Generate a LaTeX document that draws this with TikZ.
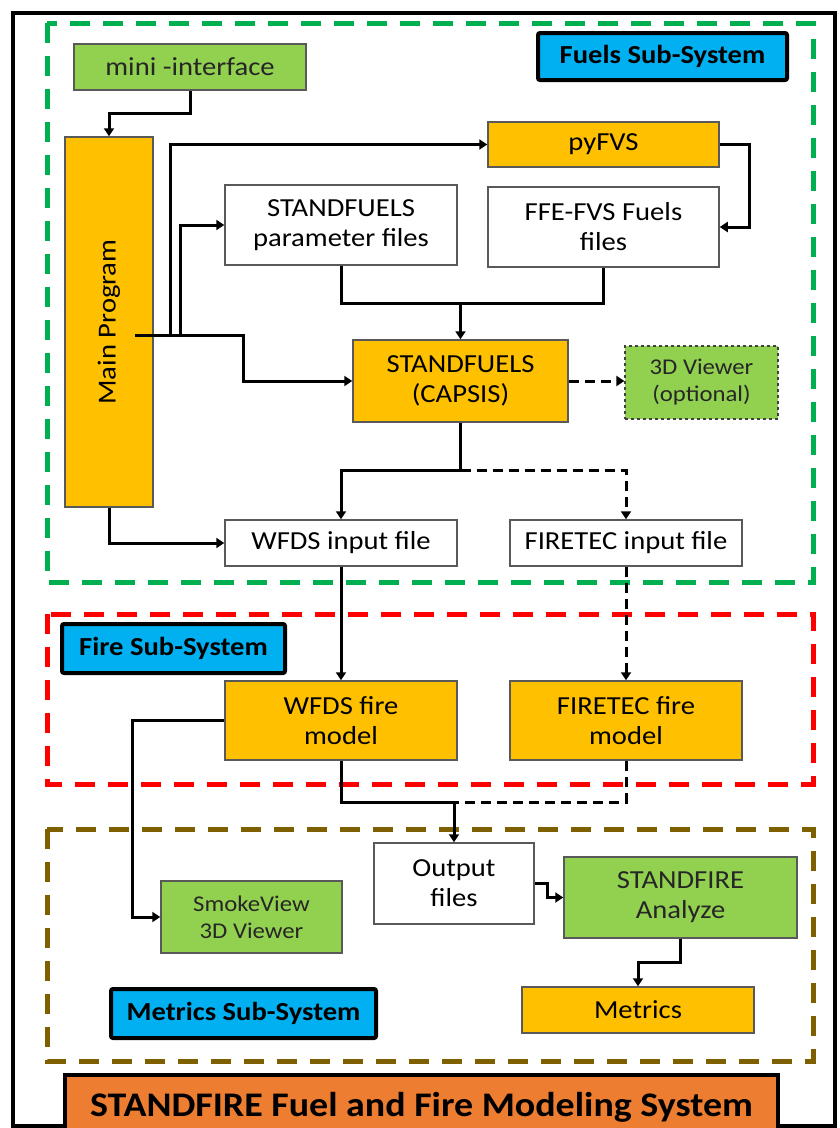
\documentclass[tikz,border=0pt]{standalone}
\usepackage{fontspec}
\setmainfont{Carlito}[FakeStretch=1.1]
\usetikzlibrary{arrows.meta}
\definecolor{cOrange}{HTML}{FFC000}
\definecolor{cGreen}{HTML}{92D050}
\definecolor{cBlue}{HTML}{00B0F0}
\definecolor{cTitle}{HTML}{ED7D31}
\definecolor{cFrameG}{HTML}{00B050}
\definecolor{cFrameR}{HTML}{FF0000}
\definecolor{cFrameB}{HTML}{7F6000}
\tikzset{
  box/.style={draw=black!65, line width=1.5pt, inner sep=0pt, align=center,
    font=\fontsize{26}{30}\selectfont},
  obox/.style={box, fill=cOrange},
  gbox/.style={box, fill=cGreen, text=black!85},
  wbox/.style={box, fill=white},
  lbl/.style={draw=black, line width=4pt, fill=cBlue, rounded corners=2pt, inner sep=0pt,
    font=\fontsize{26}{30}\selectfont\bfseries},
  conn/.style={draw=black, line width=3pt},
  arr/.style={conn, -{Triangle[length=8pt,width=10pt]}},
  dsh/.style={dash pattern=on 10pt off 6pt},
  frame/.style={line width=5pt, dash pattern=on 20pt off 13pt},
}
\begin{document}
\begin{tikzpicture}[x=1pt,y=-1pt]
\useasboundingbox (0,0) rectangle (840,1128);
\fill[white] (0,0) rectangle (840,1128);
% outer frame
\draw[line width=4pt] (13,13) rectangle (835,1126);
% sub-system frames
\draw[frame, cFrameG] (47,23) rectangle (813,582);
\draw[frame, cFrameR] (47,614) rectangle (813,784);
\draw[frame, cFrameB] (47,829) rectangle (813,1061);

% nodes
\node[gbox, minimum width=232, minimum height=46] (mini) at (190,67) {mini -interface};
\node[lbl, minimum width=249, minimum height=47] (fuelslbl) at (662.5,56.5) {Fuels Sub-System};
\node[obox, rotate=90, minimum width=370, minimum height=88] (main) at (109,322) {Main Program};
\node[obox, minimum width=231, minimum height=45] (pyfvs) at (603.5,144.5) {pyFVS};
\node[wbox, minimum width=232, minimum height=80] (sfparam) at (341,225) {STANDFUELS\\parameter files};
\node[wbox, minimum width=231, minimum height=80] (ffe) at (603.5,227) {FFE-FVS Fuels\\files};
\node[obox, minimum width=215, minimum height=82] (capsis) at (460.5,381) {STANDFUELS\\(CAPSIS)};
\node[gbox, dashed, draw=black!75, line width=1.2pt, minimum width=153, minimum height=73,
  font=\fontsize{22.5}{27}\selectfont] (viewer) at (701.5,382.5) {3D Viewer\\(optional)};
\node[wbox, minimum width=232, minimum height=46] (wfdsin) at (341,543) {WFDS input file};
\node[wbox, minimum width=232, minimum height=46] (firein) at (626,543) {FIRETEC input file};
\node[lbl, minimum width=223, minimum height=49] (firelbl) at (173.5,648.5) {Fire Sub-System};
\node[obox, minimum width=232, minimum height=79] (wfdsfire) at (341,720.5) {WFDS fire\\model};
\node[obox, minimum width=232, minimum height=79] (firefire) at (626,720.5) {FIRETEC fire\\model};
\node[wbox, minimum width=160, minimum height=81] (output) at (454,883.5) {Output\\files};
\node[gbox, minimum width=181, minimum height=72, font=\fontsize{22.5}{27}\selectfont] (smoke) at (251.5,917) {SmokeView\\3D Viewer};
\node[gbox, minimum width=233, minimum height=81] (analyze) at (680.5,897.5) {STANDFIRE\\Analyze};
\node[obox, minimum width=232, minimum height=46] (metrics) at (638,1010) {Metrics};
\node[lbl, minimum width=265, minimum height=49] (metlbl) at (243.5,1013.5) {Metrics Sub-System};
\node[draw=black, line width=4pt, fill=cTitle, inner sep=0pt, minimum width=713, minimum height=64,
  font=\fontsize{34.5}{40}\selectfont\bfseries] (title) at (421.5,1107) {\raisebox{3pt}{STANDFIRE Fuel and Fire Modeling System}};

% connectors
\draw[arr] (mini.south) -- ++(0,23) -| (main.east);
\coordinate (mp) at (135,335);
\coordinate (b1) at (170,335);
\coordinate (b2) at (180,335);
\coordinate (b3) at (243,335);
\draw[arr] (mp) -- (b3) |- (capsis.west);
\draw[arr] (b1) |- (pyfvs.west);
\draw[arr] (b2) |- (sfparam.west);
\draw[arr] (main.west) |- (wfdsin.west);
\draw[arr] (pyfvs.east) -- ++(30,0) |- (ffe.east);
\coordinate (j1) at (460.5,303);
\draw[conn] (sfparam.south) |- (j1);
\draw[conn] (ffe.south) |- (j1);
\draw[arr] (j1) -- (capsis.north);
\draw[arr, dsh] (capsis.east) -- (capsis.east -| viewer.west);
\draw[conn] (capsis.south) -- ++(0,48) coordinate (j2);
\draw[arr] (j2) -| (wfdsin.north);
\draw[arr, dsh] (j2) -| (firein.north);
\draw[arr] (wfdsin.south) -- (wfdsfire.north);
\draw[arr, dsh] (firein.south) -- (firefire.north);
\draw[arr] (wfdsfire.west) -- ++(-92,0) |- (smoke.west);
\coordinate (j3) at (454,802);
\draw[conn] (wfdsfire.south) |- (j3);
\draw[conn, dsh] (firefire.south) |- (j3);
\draw[arr] (j3) -- (output.north);
\draw[arr] (output.east) -- ++(13,0) |- (analyze.west);
\draw[arr] (analyze.south) -- ++(0,24) -| (metrics.north);
\end{tikzpicture}
\end{document}
